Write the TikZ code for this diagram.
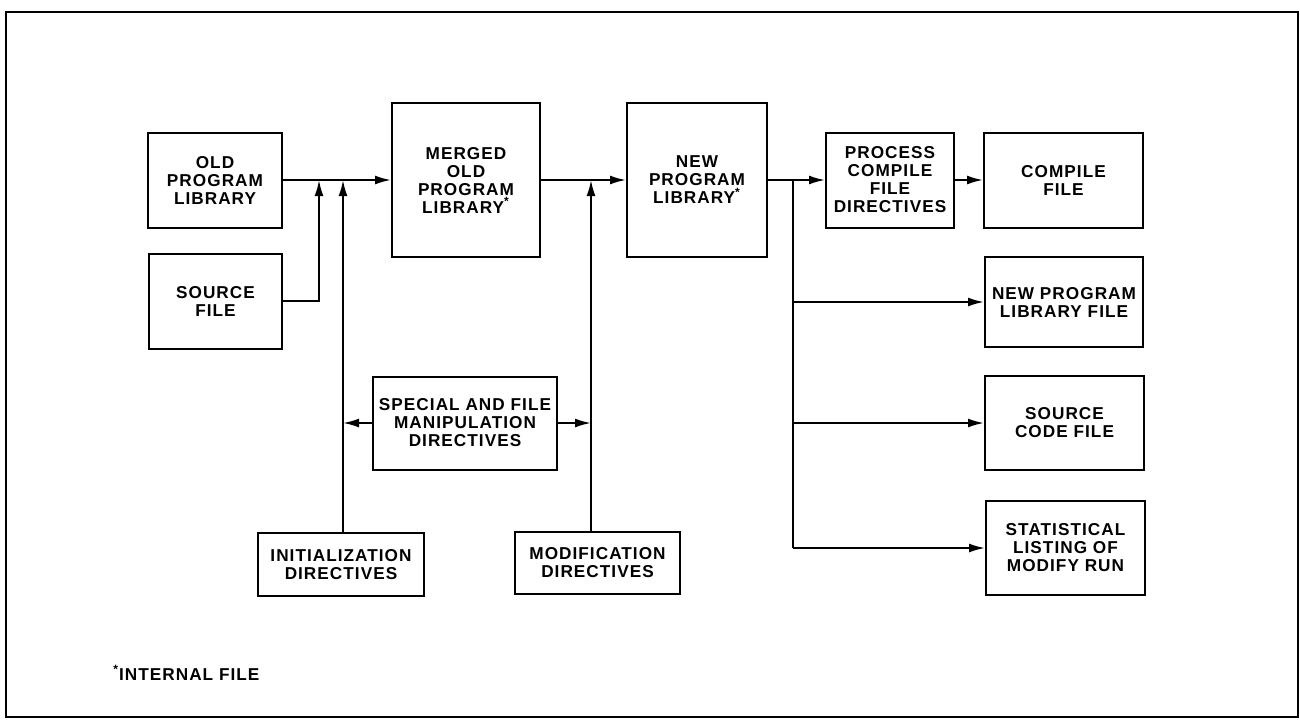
\documentclass[tikz,border=0pt]{standalone}
\usepackage{fontspec}
\setmainfont{Liberation Sans}
\newfontfamily\chartfont{Liberation Sans}[LetterSpace=6]
\usetikzlibrary{arrows.meta}
\newcommand{\lbl}{\chartfont\bfseries\fontsize{8.6}{9}\selectfont}
\newcommand{\intl}{\textsuperscript{*}}
\tikzset{
  blk/.style={draw,line width=1pt,align=center,inner sep=0pt,font=\lbl},
  sz/.style 2 args={minimum width={#1*0.5pt},minimum height={#2*0.5pt}},
  lnk/.style={line width=1pt},
  arr/.style={lnk,-{Latex[length=8pt,width=4.5pt]}},
}

\begin{document}
\begin{tikzpicture}[x=0.5pt,y=-0.5pt]
\useasboundingbox (0,0) rectangle (1300,719);

% --- outer frame ------------------------------------------------------
\draw[line width=1pt] (6,12) rectangle (1298,717);

% --- input side -------------------------------------------------------
\node[blk,sz={134}{95}] (old) at (215,180) {OLD\\PROGRAM\\LIBRARY};
\node[blk,sz={133}{95}] (src) at (215.5,301) {SOURCE\\FILE};
\node[blk,sz={148}{154}] (merged) at (466,180) {MERGED\\OLD\\PROGRAM\\LIBRARY\intl};
\node[blk,sz={140}{154}] (newlib) at (697,180) {NEW\\PROGRAM\\LIBRARY\intl};

% --- directives -------------------------------------------------------
\node[blk,sz={184}{93}] (special) at (465,423) {SPECIAL AND FILE\\MANIPULATION\\DIRECTIVES};
\node[blk,sz={166}{63}] (init) at (341,564.5) {INITIALIZATION\\DIRECTIVES};
\node[blk,sz={165}{62}] (modif) at (597.5,563) {MODIFICATION\\DIRECTIVES};

% --- output side ------------------------------------------------------
\node[blk,sz={128}{95}] (proc) at (890,180) {PROCESS\\COMPILE\\FILE\\DIRECTIVES};
\node[blk,sz={159}{95}] (compile) at (1063.5,180) {COMPILE\\FILE};
\node[blk,sz={158}{90}] (nplf) at (1064,302) {NEW PROGRAM\\LIBRARY FILE};
\node[blk,sz={159}{94}] (scf) at (1064.5,423) {SOURCE\\CODE FILE};
\node[blk,sz={159}{94}] (stat) at (1065.5,548) {STATISTICAL\\LISTING OF\\MODIFY RUN};

\node[font=\lbl,anchor=west,inner sep=0pt] (note) at (113,673) {\intl INTERNAL FILE};

% --- junctions on the main line ---------------------------------------
\coordinate (jsrc) at (319,180);
\coordinate (jini) at (343,180);
\coordinate (jmod) at (591,180);
\coordinate (jout) at (793,180);

% --- connectors -------------------------------------------------------
\draw[arr] (old) -- (merged);
\draw[arr] (src.east) -- (src.east -| jsrc) -- (jsrc);
\draw[arr] (init.north -| jini) -- (jini);
\draw[arr] (special.west) -- (special.west -| jini);
\draw[arr] (special.east) -- (special.east -| jmod);
\draw[arr] (modif.north -| jmod) -- (jmod);
\draw[arr] (merged) -- (newlib);
\draw[arr] (newlib) -- (proc);
\draw[arr] (proc) -- (compile);
\draw[lnk] (jout) -- (jout |- stat.west);
\foreach \b in {nplf,scf,stat}{
  \draw[arr] (jout |- \b.west) -- (\b.west);
}

\end{tikzpicture}
\end{document}
